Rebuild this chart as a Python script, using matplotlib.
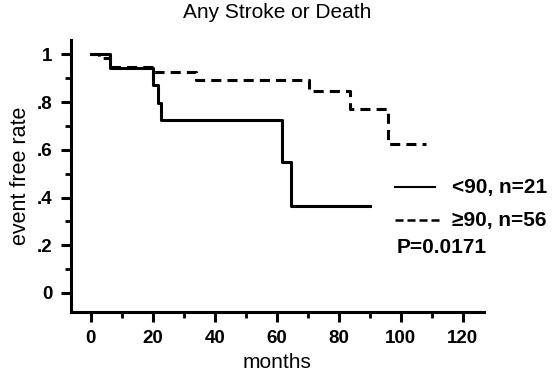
import numpy as np
import matplotlib
matplotlib.use('Agg')
import matplotlib.pyplot as plt

plt.rcParams['font.family'] = ['Liberation Sans', 'DejaVu Sans']

# Kaplan-Meier steps
t_low = [0, 6, 20, 21.5, 22.5, 61.5, 64.5, 90]
s_low = [1.0, 0.943, 0.87, 0.795, 0.727, 0.549, 0.365, 0.365]
t_high = [0, 2.5, 6, 20.5, 34, 70.5, 83.5, 96, 108]
s_high = [1.0, 0.985, 0.947, 0.926, 0.894, 0.846, 0.773, 0.626, 0.626]

labels = ['<90, n=21', '\u226590, n=56']
p_text = 'P=0.0171'
yticks = [0, 0.2, 0.4, 0.6, 0.8, 1.0]
ytick_labels = ['0', '.2', '.4', '.6', '.8', '1']
xticks = [0, 20, 40, 60, 80, 100, 120]

fig = plt.figure(figsize=(5.53, 3.75), dpi=100)
ax = fig.add_axes([0.128, 0.168, 0.747, 0.725])

ax.step(t_low, s_low, where='post', color='black', lw=2.2)
ax.step(t_high, s_high, where='post', color='black', lw=2.2,
        linestyle=(0, (3.3, 2)))

ax.set_xlim(-6.5, 126.8)
ax.set_ylim(-0.08, 1.06)

ax.set_xticks(xticks)
ax.set_xticks(np.arange(10, 120, 20), minor=True)
ax.set_yticks(yticks)
ax.set_yticklabels(ytick_labels)
ax.set_yticks(np.arange(0.1, 1.0, 0.2), minor=True)

for s in ['top', 'right']:
    ax.spines[s].set_visible(False)
for s in ['left', 'bottom']:
    ax.spines[s].set_linewidth(2.2)

ax.tick_params(which='major', direction='out', length=7, width=2.2,
               labelsize=13.5, pad=6)
ax.tick_params(which='minor', direction='out', length=4, width=2)
for lab in ax.get_xticklabels() + ax.get_yticklabels():
    lab.set_fontweight('bold')

ax.set_title('Any Stroke or Death', fontsize=15, pad=16)
ax.set_xlabel('months', fontsize=15, labelpad=4.5)
ax.set_ylabel('event free rate', fontsize=15.5, labelpad=4)

# legend drawn by hand in figure coordinates
fig.add_artist(plt.Line2D([0.715, 0.787], [0.501, 0.501], color='black', lw=1.5,
                          transform=fig.transFigure))
fig.add_artist(plt.Line2D([0.715, 0.795], [0.413, 0.413], color='black', lw=1.8,
                          linestyle=(0, (3.2, 1.6)), transform=fig.transFigure))
fig.text(0.818, 0.501, labels[0], fontsize=15, fontweight='bold', va='center')
fig.text(0.818, 0.413, labels[1], fontsize=15, fontweight='bold', va='center')
fig.text(0.717, 0.34, p_text, fontsize=15, fontweight='bold', va='center')

fig.savefig('out.png', dpi=100)
